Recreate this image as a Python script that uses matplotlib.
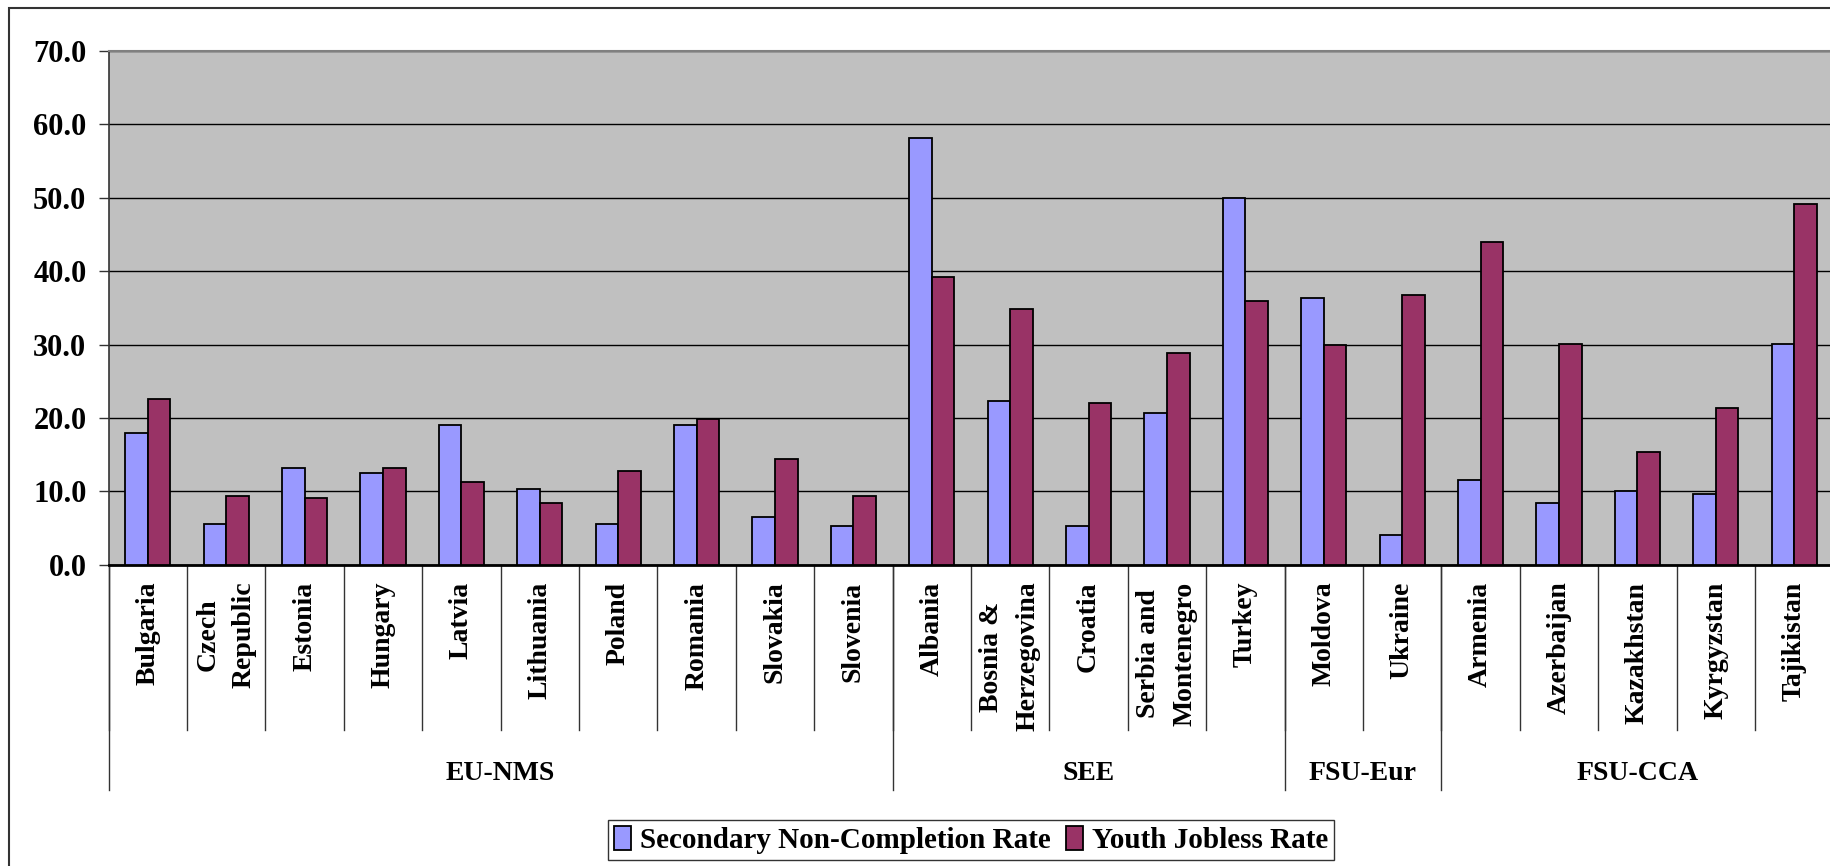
#!/usr/bin/env python3
"""Secondary non-completion vs youth jobless rate, transition countries."""

import numpy as np
import matplotlib
matplotlib.use("Agg")
import matplotlib.pyplot as plt
from matplotlib.patches import Rectangle

COUNTRIES = ["Bulgaria", "Czech\nRepublic", "Estonia", "Hungary", "Latvia", "Lithuania",
             "Poland", "Romania", "Slovakia", "Slovenia",
             "Albania", "Bosnia &\nHerzegovina", "Croatia", "Serbia and\nMontenegro", "Turkey",
             "Moldova", "Ukraine",
             "Armenia", "Azerbaijan", "Kazakhstan", "Kyrgyzstan", "Tajikistan"]
GROUPS = ["EU-NMS", "SEE", "FSU-Eur", "FSU-CCA"]
GROUP_SIZES = [10, 5, 2, 5]

non_completion = [18.0, 5.5, 13.2, 12.5, 19.0, 10.3, 5.5, 19.0, 6.5, 5.3,
                  58.2, 22.3, 5.3, 20.7, 50.0,
                  36.3, 4.1,
                  11.5, 8.4, 10.1, 9.6, 30.1]
youth_jobless = [22.6, 9.4, 9.1, 13.2, 11.3, 8.4, 12.8, 19.9, 14.4, 9.3,
                 39.2, 34.8, 22.1, 28.8, 36.0,
                 30.0, 36.7,
                 44.0, 30.1, 15.4, 21.4, 49.1]

Y_TICKS = [0, 10, 20, 30, 40, 50, 60, 70]

W, H = 1830, 866
FONT = "Liberation Serif"
BLUE = "#9999FF"
RED = "#993366"


def main():
    fig = plt.figure(figsize=(W / 100, H / 100), dpi=100)
    fig.patch.set_facecolor("white")

    # plot area in pixel terms of the reference
    left, right, top, base = 108.6, 1830, 51, 564.7
    cat_w = 78.4
    ax = fig.add_axes([left / W, 1 - base / H, (right - left) / W, (base - top) / H])
    ax_h = base - top

    x = np.arange(len(COUNTRIES))
    bw = 0.287
    ax.bar(x + 0.5 - bw / 2, non_completion, bw, color=BLUE, edgecolor="black",
           linewidth=1.3, label="Secondary Non-Completion Rate", zorder=3)
    ax.bar(x + 0.5 + bw / 2, youth_jobless, bw, color=RED, edgecolor="black",
           linewidth=1.3, label="Youth Jobless Rate", zorder=3)

    ax.set_facecolor("#C0C0C0")
    ax.set_xlim(0, (right - left) / cat_w)
    ax.set_ylim(0, 70)
    ax.set_yticks(Y_TICKS)
    ax.set_yticklabels([f"{v:.1f}" for v in Y_TICKS], fontfamily=FONT,
                       fontweight="bold", fontsize=22)
    ax.tick_params(axis="y", length=7, width=1, direction="out", pad=9, color="#333333")
    ax.set_xticks([])
    ax.grid(axis="y", color="black", linewidth=1, zorder=0)
    ax.set_axisbelow(True)
    ax.spines["top"].set_color("#808080")
    ax.spines["top"].set_linewidth(1.5)
    ax.spines["left"].set_color("#333333")
    ax.spines["left"].set_linewidth(1.2)
    ax.spines["bottom"].set_color("black")
    ax.spines["bottom"].set_linewidth(2)
    ax.spines["right"].set_visible(False)

    trans = ax.get_xaxis_transform()
    cat_depth = -165 / ax_h
    grp_depth = -225 / ax_h

    # country labels and category separators
    for i, name in enumerate(COUNTRIES):
        ax.text(i + 0.5, -17 / ax_h, name, transform=trans, rotation=90,
                ha="center", va="top", multialignment="center",
                fontfamily=FONT, fontweight="bold", fontsize=20, linespacing=1.6)
        ax.plot([i, i], [0, cat_depth], transform=trans, color="#333333",
                linewidth=1, clip_on=False)

    # group labels and separators
    start = 0
    for name, size in zip(GROUPS, GROUP_SIZES):
        ax.plot([start, start], [0, grp_depth], transform=trans, color="#333333",
                linewidth=1, clip_on=False)
        ax.text(start + size / 2, -(773 - base) / ax_h, name, transform=trans,
                ha="center", va="center", fontfamily=FONT, fontweight="bold", fontsize=20)
        start += size

    # outer chart border
    fig.patches.append(Rectangle((9 / W, -0.2), 2, 1.2 - 8 / H, transform=fig.transFigure,
                                 fill=False, edgecolor="#333333", linewidth=1.5))

    leg = fig.legend(loc="center", bbox_to_anchor=(971 / W, 1 - 840 / H), ncol=2,
                     prop={"family": FONT, "weight": "bold", "size": 21},
                     frameon=True, fancybox=False, handlelength=0.6, handleheight=0.9,
                     handletextpad=0.3, columnspacing=0.5, borderpad=0.2,
                     borderaxespad=0)
    leg.get_frame().set_edgecolor("black")
    leg.get_frame().set_linewidth(1)

    fig.savefig("out.png", dpi=100)


if __name__ == "__main__":
    main()
